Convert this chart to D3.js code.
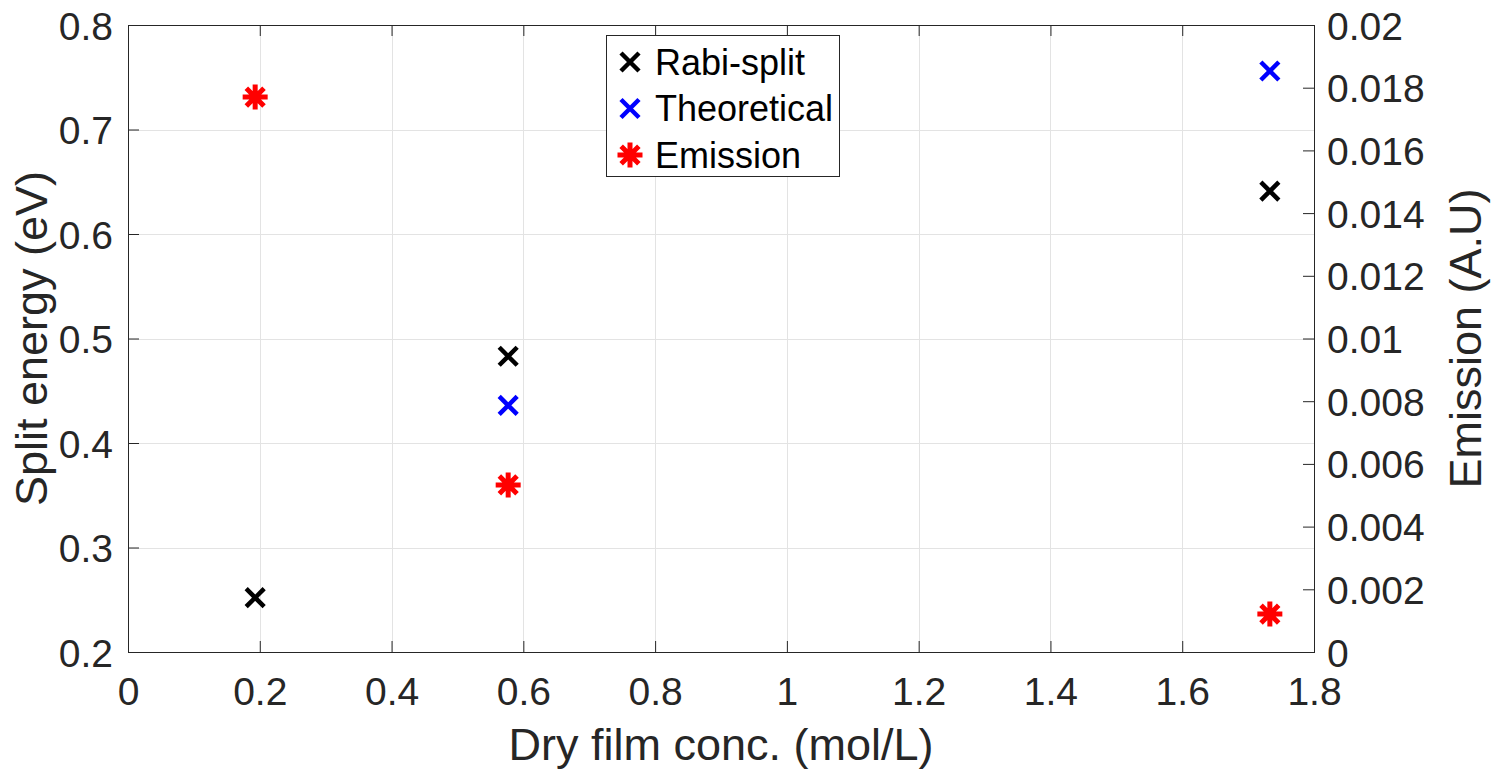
<!DOCTYPE html>
<html>
<head>
<meta charset="utf-8">
<script src="https://cdn.jsdelivr.net/npm/d3@7"></script>
<style>
  html, body { margin: 0; padding: 0; background: #fff; }
  svg { display: block; font-family: "Liberation Sans", Arial, Helvetica, sans-serif; }
</style>
</head>
<body>
<svg id="chart" width="1494" height="776"></svg>
<script>
// Concentration of the dry films (mol/L)
const concentration = [0.193, 0.577, 1.733];
// Measured Rabi splitting (eV)
const rabiSplit = [0.252, 0.483, 0.641];
// Theoretical splitting (eV), only for the two higher concentrations
const theoreticalConc = [0.577, 1.733];
const theoreticalSplit = [0.436, 0.756];
// Emission intensity (A.U)
const emission = [0.0177, 0.00533, 0.00121];

const xTicks = [0, 0.2, 0.4, 0.6, 0.8, 1, 1.2, 1.4, 1.6, 1.8];
const yLeftTicks = [0.2, 0.3, 0.4, 0.5, 0.6, 0.7, 0.8];
const yRightTicks = [0, 0.002, 0.004, 0.006, 0.008, 0.01, 0.012, 0.014, 0.016, 0.018, 0.02];

const axisColor = "#262626";
const gridColor = "#e3e3e3";
const tickFont = 39;
const labelFont = 45;
const legendFont = 36;

const svg = d3.select("#chart");
const plot = { left: 128, right: 1314, top: 25, bottom: 652 };

const x = d3.scaleLinear().domain([0, 1.8]).range([plot.left, plot.right]);
const yL = d3.scaleLinear().domain([0.2, 0.8]).range([plot.bottom, plot.top]);
const yR = d3.scaleLinear().domain([0, 0.02]).range([plot.bottom, plot.top]);

const fmt = v => String(+v.toFixed(4));
const tickLen = 11;

// grid lines
const grid = svg.append("g").attr("stroke", gridColor).attr("stroke-width", 1);
xTicks.slice(1, -1).forEach(t => {
  grid.append("line").attr("x1", Math.round(x(t)) + 0.5).attr("x2", Math.round(x(t)) + 0.5)
    .attr("y1", plot.top).attr("y2", plot.bottom);
});
yLeftTicks.slice(1, -1).forEach(t => {
  grid.append("line").attr("y1", Math.round(yL(t)) + 0.5).attr("y2", Math.round(yL(t)) + 0.5)
    .attr("x1", plot.left).attr("x2", plot.right);
});

// axes via d3 axis generators; ticks point inward
function styleAxis(g) {
  g.select(".domain").remove();
  g.selectAll(".tick line").attr("stroke", axisColor);
  g.selectAll(".tick text").attr("fill", axisColor).attr("font-size", tickFont)
    .attr("font-family", "Liberation Sans, Arial, sans-serif");
}

svg.append("g").attr("transform", `translate(0,${plot.bottom})`)
  .call(d3.axisBottom(x).tickValues(xTicks).tickFormat(fmt).tickSizeInner(-tickLen).tickPadding(25).offset(0.5))
  .call(styleAxis)
  .call(g => g.selectAll(".tick text").attr("dy", "0.71em"));

svg.append("g").attr("transform", `translate(0,${plot.top})`)
  .call(d3.axisTop(x).tickValues(xTicks).tickFormat("").tickSizeInner(-tickLen).offset(0.5))
  .call(styleAxis);

svg.append("g").attr("transform", `translate(${plot.left},0)`)
  .call(d3.axisLeft(yL).tickValues(yLeftTicks).tickFormat(fmt).tickSizeInner(-tickLen).tickPadding(15).offset(0.5))
  .call(styleAxis)
  .call(g => g.selectAll(".tick text").attr("dy", "0.36em"));

svg.append("g").attr("transform", `translate(${plot.right},0)`)
  .call(d3.axisRight(yR).tickValues(yRightTicks).tickFormat(fmt).tickSizeInner(-tickLen).tickPadding(13).offset(0.5))
  .call(styleAxis)
  .call(g => g.selectAll(".tick text").attr("dy", "0.36em"));

// plot box
svg.append("rect")
  .attr("x", plot.left + 0.5).attr("y", plot.top + 0.5)
  .attr("width", plot.right - plot.left).attr("height", plot.bottom - plot.top)
  .attr("fill", "none").attr("stroke", axisColor).attr("stroke-width", 1);

// axis titles
svg.append("text").attr("x", (plot.left + plot.right) / 2).attr("y", 760)
  .attr("text-anchor", "middle").attr("font-size", labelFont).attr("fill", axisColor)
  .text("Dry film conc. (mol/L)");
svg.append("text").attr("transform", `translate(47,${(plot.top + plot.bottom) / 2}) rotate(-90)`)
  .attr("text-anchor", "middle").attr("font-size", labelFont).attr("fill", axisColor)
  .text("Split energy (eV)");
svg.append("text").attr("transform", `translate(1481,${(plot.top + plot.bottom) / 2}) rotate(-90)`)
  .attr("text-anchor", "middle").attr("font-size", labelFont).attr("fill", axisColor)
  .text("Emission (A.U)");

// marker shapes
function cross(g, cx, cy, color) {
  const r = 9;
  g.append("path")
    .attr("d", `M${cx - r},${cy - r}L${cx + r},${cy + r}M${cx - r},${cy + r}L${cx + r},${cy - r}`)
    .attr("stroke", color).attr("stroke-width", 4.5).attr("fill", "none");
}
function asterisk(g, cx, cy, color) {
  const r = 12.5, d = r * Math.SQRT1_2;
  g.append("path")
    .attr("d", `M${cx},${cy - r}L${cx},${cy + r}M${cx - r},${cy}L${cx + r},${cy}` +
               `M${cx - d},${cy - d}L${cx + d},${cy + d}M${cx - d},${cy + d}L${cx + d},${cy - d}`)
    .attr("stroke", color).attr("stroke-width", 5).attr("fill", "none");
}

const marks = svg.append("g");
concentration.forEach((c, i) => cross(marks, x(c), yL(rabiSplit[i]), "#000000"));
theoreticalConc.forEach((c, i) => cross(marks, x(c), yL(theoreticalSplit[i]), "#0000ff"));
concentration.forEach((c, i) => asterisk(marks, x(c), yR(emission[i]), "#ff0000"));

// legend
const legendItems = [
  { label: "Rabi-split", color: "#000000", shape: cross },
  { label: "Theoretical", color: "#0000ff", shape: cross },
  { label: "Emission", color: "#ff0000", shape: asterisk }
];
const lg = svg.append("g");
lg.append("rect").attr("x", 606.5).attr("y", 35.5).attr("width", 233).attr("height", 141)
  .attr("fill", "#fff").attr("stroke", axisColor).attr("stroke-width", 1);
legendItems.forEach((d, i) => {
  const cy = 62 + i * 46.5;
  d.shape(lg, 630, cy, d.color);
  lg.append("text").attr("x", 655).attr("y", cy).attr("dy", "0.36em")
    .attr("font-size", legendFont).attr("fill", "#000").text(d.label);
});
</script>
</body>
</html>
